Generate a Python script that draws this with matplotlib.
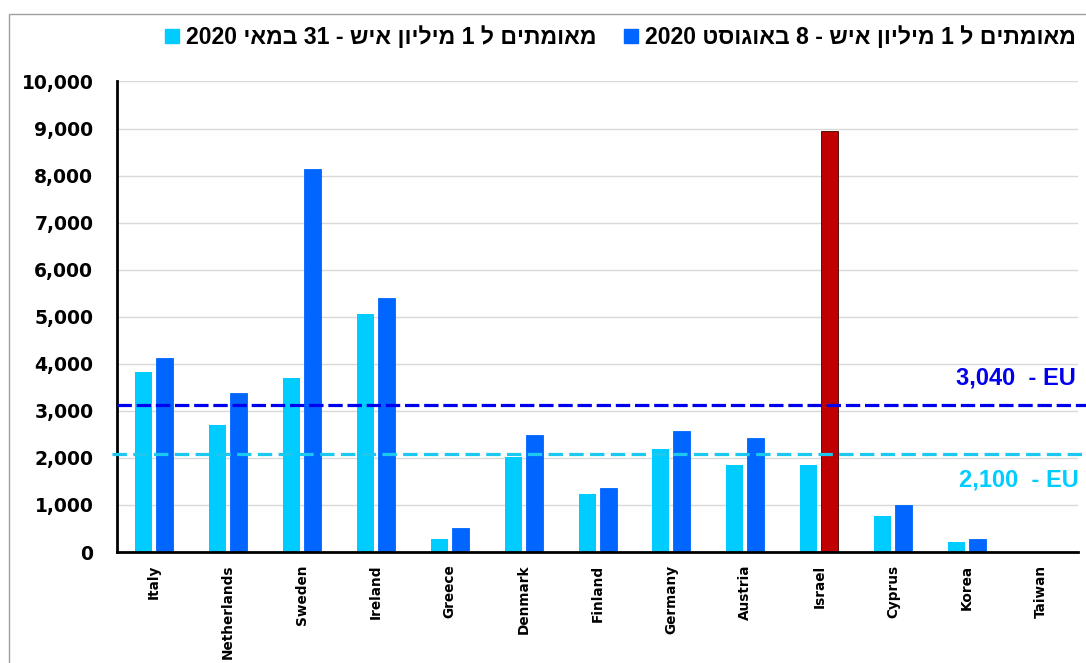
import numpy as np
import matplotlib
matplotlib.use("Agg")
import matplotlib.pyplot as plt
from matplotlib.patches import Rectangle, Patch

countries = ["Italy", "Netherlands", "Sweden", "Ireland", "Greece", "Denmark", "Finland",
             "Germany", "Austria", "Israel", "Cyprus", "Korea", "Taiwan"]
may_vals = [3830, 2700, 3705, 5055, 275, 2020, 1235, 2190, 1850, 1850, 765, 215, 0]
aug_vals = [4125, 3375, 8140, 5395, 510, 2485, 1360, 2570, 2425, 8950, 1000, 275, 0]
eu_may = 2090
eu_aug = 3120
eu_may_label = "2,100  - EU"
eu_aug_label = "3,040  - EU"
yticks = [0, 1000, 2000, 3000, 4000, 5000, 6000, 7000, 8000, 9000, 10000]
leg_may = "מאומתים ל 1 מיליון איש - 31 במאי 2020"
leg_aug = "מאומתים ל 1 מיליון איש - 8 באוגוסט 2020"

LIGHT = "#00CCFF"
BLUE = "#0066FF"
RED = "#C00000"
DARK = "#0000EE"


def visual(s):
    # crude bidi: reverse word order, flip hebrew words
    out = []
    for w in reversed(s.split(" ")):
        if any("\u0590" <= c <= "\u05ff" for c in w):
            out.append(w[::-1])
        else:
            out.append(w)
    return " ".join(out)


fig = plt.figure(figsize=(10.86, 6.63), dpi=100)
ax = fig.add_axes([0.1077, 0.1674, 0.885, 0.7097])

x = np.arange(len(countries))
w = 0.23
off = 0.142
aug_colors = [RED if c == "Israel" else BLUE for c in countries]
aug_edges = ["#400000" if c == "Israel" else BLUE for c in countries]
ax.bar(x - off, may_vals, w, color=LIGHT, zorder=3)
ax.bar(x + off, aug_vals, w, color=aug_colors, edgecolor=aug_edges, linewidth=0.6, zorder=3)

ax.set_xlim(-0.5, len(countries) - 0.5)
ax.set_ylim(0, 10000)
ax.set_yticks(yticks)
ax.set_yticklabels(["{:,}".format(v) for v in yticks], fontsize=13.5, fontweight="bold",
                   family="DejaVu Sans")
ax.set_xticks(x)
ax.set_xticklabels(countries, rotation=90, fontsize=9.8, fontweight="bold", family="DejaVu Sans")
ax.tick_params(axis="y", length=0, pad=17)
ax.tick_params(axis="x", length=0, pad=9)
ax.grid(axis="y", color="#D9D9D9", linewidth=1, zorder=0)
for s in ["top", "right"]:
    ax.spines[s].set_visible(False)
for s in ["left", "bottom"]:
    ax.spines[s].set_linewidth(2)
    ax.spines[s].set_color("black")
    ax.spines[s].set_zorder(4)

l1 = ax.axhline(eu_aug, xmin=0, xmax=1.01, color=DARK, linewidth=2.3, clip_on=False, zorder=5)
l1.set_dashes((4.5, 1.5))
l2 = ax.axhline(eu_may, xmin=-0.005, xmax=1.01, color="#1AC8F0", linewidth=2.3, clip_on=False, zorder=5)
l2.set_dashes((4.5, 2))

ax.text(0.998, eu_aug + 330, eu_aug_label, transform=ax.get_yaxis_transform(), ha="right",
        va="bottom", color=DARK, fontsize=17, fontweight="bold", family="Liberation Sans")
ax.text(1.001, eu_may - 320, eu_may_label, transform=ax.get_yaxis_transform(), ha="right",
        va="top", color="#00CCFF", fontsize=17, fontweight="bold", family="Liberation Sans")

handles = [Patch(color=LIGHT), Patch(color=BLUE)]
fig.legend(handles, [visual(leg_may), visual(leg_aug)], ncol=2, loc="center",
           bbox_to_anchor=(0.5715, 0.943), frameon=False, handlelength=0.6, handleheight=0.6,
           handletextpad=0.3, columnspacing=1.2,
           prop={"family": ["Liberation Sans", "DejaVu Sans"], "weight": "bold", "size": 16.6})

fig.add_artist(Rectangle((9 / 1086, -0.1), 1.2, 1.1 - 14 / 663, transform=fig.transFigure,
                         fill=False, edgecolor="#A0A0A0", linewidth=1))

fig.savefig("out.png", dpi=100)
